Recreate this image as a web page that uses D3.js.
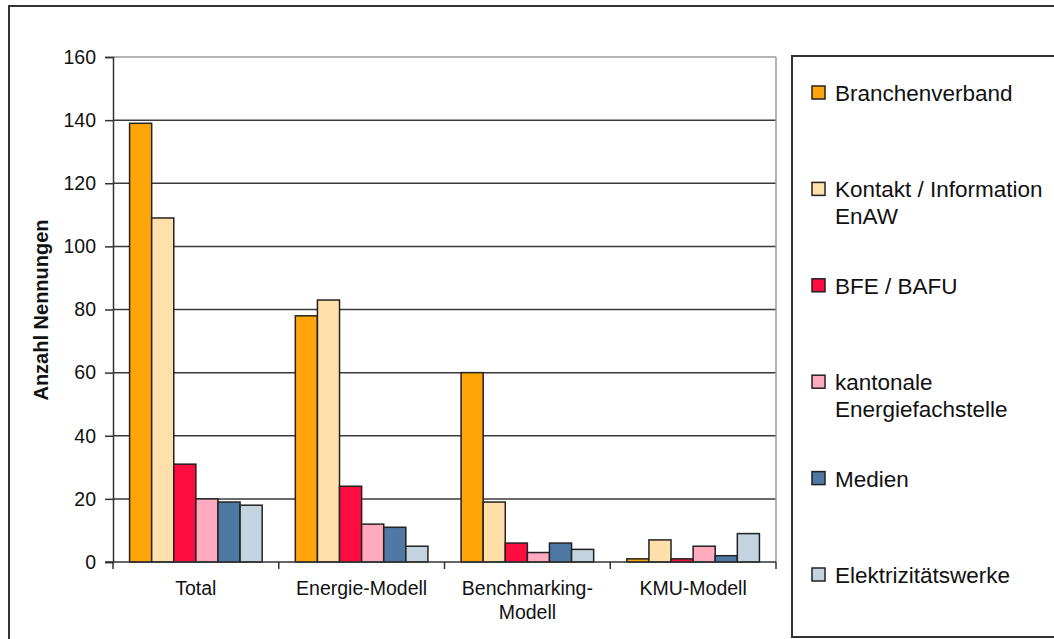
<!DOCTYPE html>
<html>
<head>
<meta charset="utf-8">
<script src="https://cdn.jsdelivr.net/npm/d3@7"></script>
<style>
  html, body { margin: 0; padding: 0; background: #fff; }
  svg { display: block; font-family: "Liberation Sans", Arial, sans-serif; }
</style>
</head>
<body>
<svg id="chart" width="1054" height="639"></svg>
<script>
const categories = ["Total", "Energie-Modell", "Benchmarking-Modell", "KMU-Modell"];
const categoryLabels = [["Total"], ["Energie-Modell"], ["Benchmarking-", "Modell"], ["KMU-Modell"]];
const series = ["Branchenverband", "Kontakt / Information EnAW", "BFE / BAFU", "kantonale Energiefachstelle", "Medien", "Elektrizitätswerke"];
const legendLines = [["Branchenverband"], ["Kontakt / Information", "EnAW"], ["BFE / BAFU"], ["kantonale", "Energiefachstelle"], ["Medien"], ["Elektrizitätswerke"]];
const colors = ["#ffa50a", "#ffdfaa", "#ff0d40", "#ffaabf", "#4e79a5", "#c4d3e0"];
const branchenverband = [139, 78, 60, 1];
const kontakt = [109, 83, 19, 7];
const bfe = [31, 24, 6, 1];
const kantonal = [20, 12, 3, 5];
const medien = [19, 11, 6, 2];
const elektrizitaet = [18, 5, 4, 9];
const values = [branchenverband, kontakt, bfe, kantonal, medien, elektrizitaet];
const yTicks = [0, 20, 40, 60, 80, 100, 120, 140, 160];
const yTitle = "Anzahl Nennungen";

const svg = d3.select("#chart");
const plot = { left: 113, right: 776, top: 57, bottom: 562 };

// outer frame
svg.append("rect").attr("x", 9).attr("y", 6).attr("width", 1100).attr("height", 700)
  .attr("fill", "none").attr("stroke", "#333").attr("stroke-width", 2);

const x = d3.scaleBand().domain(categories).range([plot.left, plot.right]).paddingInner(0.2).paddingOuter(0.1);
const xs = d3.scaleBand().domain(series).range([0, x.bandwidth()]);
const y = d3.scaleLinear().domain([0, 160]).range([plot.bottom, plot.top]);

// gridlines
svg.append("g").selectAll("line").data(yTicks.filter(d => d > 0 && d < 160)).join("line")
  .attr("x1", plot.left).attr("x2", plot.right)
  .attr("y1", d => y(d)).attr("y2", d => y(d))
  .attr("stroke", "#3a3a3a").attr("stroke-width", 1.5);
// top & right frame (gray)
svg.append("line").attr("x1", plot.left).attr("x2", plot.right).attr("y1", y(160)).attr("y2", y(160))
  .attr("stroke", "#9a9a9a").attr("stroke-width", 1.5);
svg.append("line").attr("x1", plot.right).attr("x2", plot.right).attr("y1", plot.top).attr("y2", plot.bottom)
  .attr("stroke", "#9a9a9a").attr("stroke-width", 1.5);

// bars
const groups = svg.append("g").selectAll("g").data(categories).join("g")
  .attr("transform", d => `translate(${x(d)},0)`);
groups.selectAll("rect").data((c, ci) => series.map((s, si) => ({ s, si, v: values[si][ci] }))).join("rect")
  .attr("x", d => xs(d.s)).attr("width", xs.bandwidth())
  .attr("y", d => y(d.v)).attr("height", d => y(0) - y(d.v))
  .attr("fill", d => colors[d.si]).attr("stroke", "#222").attr("stroke-width", 1.5);

// y axis
const yAxis = svg.append("g").attr("transform", `translate(${plot.left},0)`)
  .call(d3.axisLeft(y).tickValues(yTicks).tickSize(8).tickPadding(9));
yAxis.select(".domain").attr("stroke", "#333").attr("stroke-width", 1.5);
yAxis.selectAll(".tick line").attr("stroke", "#333").attr("stroke-width", 1.5);
yAxis.selectAll(".tick text").attr("font-size", 19.5).attr("fill", "#111").attr("font-family", "'Liberation Sans', Arial, sans-serif");

// x axis
const xAxisG = svg.append("g").attr("transform", `translate(0,${plot.bottom})`);
xAxisG.append("line").attr("x1", plot.left - 8).attr("x2", plot.right).attr("stroke", "#333").attr("stroke-width", 1.5);
const boundaries = categories.map(c => x(c) - x.step() * x.paddingInner() / 2).concat([plot.right]);
boundaries[0] = plot.left;
xAxisG.selectAll("line.tk").data(boundaries).join("line").attr("class", "tk")
  .attr("x1", d => d).attr("x2", d => d).attr("y1", 0).attr("y2", 7)
  .attr("stroke", "#333").attr("stroke-width", 1.5);
const xl = xAxisG.selectAll("text").data(categories).join("text")
  .attr("x", d => x(d) + x.bandwidth() / 2).attr("y", 33)
  .attr("text-anchor", "middle").attr("font-size", 19.5).attr("fill", "#111");
xl.each(function(d, i) {
  d3.select(this).selectAll("tspan").data(categoryLabels[i]).join("tspan")
    .attr("x", x(d) + x.bandwidth() / 2).attr("dy", (t, j) => j === 0 ? 0 : 24).text(t => t);
});

// y title
svg.append("text").attr("transform", "translate(48,310) rotate(-90)")
  .attr("text-anchor", "middle").attr("font-size", 20).attr("font-weight", "bold").attr("fill", "#111")
  .text(yTitle);

// legend
svg.append("rect").attr("x", 792).attr("y", 56).attr("width", 400).attr("height", 581)
  .attr("fill", "none").attr("stroke", "#333").attr("stroke-width", 2);
const legendY = d3.scalePoint().domain(series).range([93, 575]);
const lg = svg.append("g").selectAll("g").data(series).join("g")
  .attr("transform", d => `translate(812,${legendY(d)})`);
lg.append("rect").attr("x", 0).attr("y", -7).attr("width", 13).attr("height", 13)
  .attr("fill", (d, i) => colors[i]).attr("stroke", "#222").attr("stroke-width", 1.5);
lg.append("text").attr("x", 23).attr("y", 8).attr("font-size", 22.5).attr("fill", "#111")
  .each(function(d, i) {
    d3.select(this).selectAll("tspan").data(legendLines[i]).join("tspan")
      .attr("x", 23).attr("dy", (t, j) => j === 0 ? 0 : 27).text(t => t);
  });
</script>
</body>
</html>
